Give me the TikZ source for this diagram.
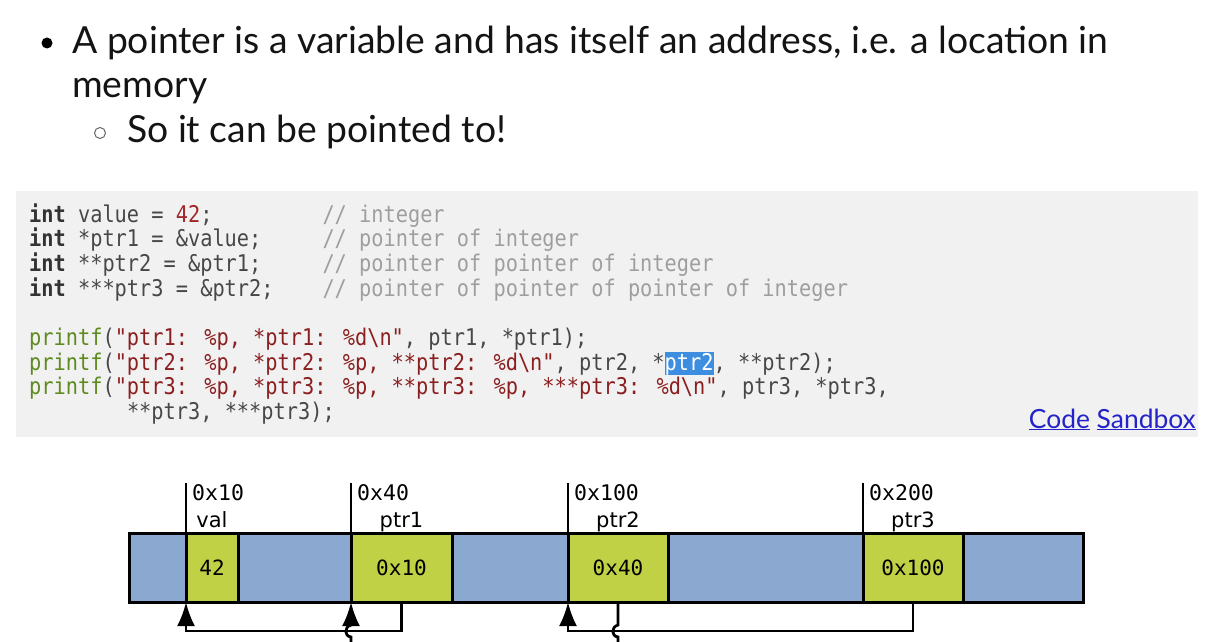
\documentclass[tikz,border=0pt]{standalone}
\usepackage{fontspec}
\setmainfont{Lato}
\newfontfamily\lato{Lato}
\newfontfamily\codefont[FakeStretch=0.8826]{DejaVu Sans Mono}
\newfontfamily\monofont{DejaVu Sans Mono}
\newfontfamily\labfont{DejaVu Sans}
\usetikzlibrary{arrows.meta}
\definecolor{kw}{HTML}{333333}
\definecolor{txt}{HTML}{474747}
\definecolor{num}{HTML}{A0282A}
\definecolor{cmt}{HTML}{9E9E9E}
\definecolor{fn}{HTML}{5F8A1F}
\definecolor{str}{HTML}{8B1E1E}
\definecolor{hl}{HTML}{3D8EE0}
\definecolor{codebg}{HTML}{F1F1F1}
\definecolor{link}{HTML}{2323C8}
\definecolor{memblue}{HTML}{8AA8D0}
\definecolor{memgreen}{HTML}{C0D145}
\newcommand{\kwint}{\textbf{\textcolor{kw}{int}}}
\newcommand{\fnc}[1]{\textcolor{fn}{#1}}
\newcommand{\strc}[1]{\textcolor{str}{#1}}
\newcommand{\hlbox}[1]{{\setlength{\fboxsep}{0pt}\colorbox{hl}{\rule[-3pt]{0pt}{21pt}\textcolor{white}{#1}}}}
\begin{document}
\begin{tikzpicture}[x=1pt,y=-1pt,
  bulletline/.style={anchor=base west, inner sep=0pt, font=\lato\fontsize{37.3}{44}\selectfont, text=black!92},
  codeline/.style={anchor=base west, inner sep=0pt, font=\codefont\fontsize{23}{24.7}\selectfont, text=txt},
  cmtline/.style={codeline, text=cmt},
  memstrip/.style={draw, line width=3pt, fill=memblue, anchor=north west, inner sep=0pt, outer sep=0pt, minimum height=69pt},
  cell/.style={draw, line width=3pt, fill=memgreen, anchor=north west, inner sep=0pt, outer sep=0pt, minimum height=69pt, font=\monofont\fontsize{21}{24}\selectfont},
  addr/.style={anchor=base west, inner sep=0pt, font=\monofont\fontsize{21.5}{24}\selectfont},
  vname/.style={anchor=base, inner sep=0pt, font=\labfont\fontsize{21}{24}\selectfont},
  marker/.style={line width=2.8pt},
  link/.style={line width=2.8pt, -{Latex[length=24pt,width=18pt]}},
  wire/.style={line width=2.8pt}
]
\useasboundingbox (0,0) rectangle (1212,642);
\fill[white] (0,0) rectangle (1212,642);

% bullets
\fill[black] (47,43) circle[radius=5.5pt];
\draw[gray!80!black, line width=1pt] (100,133) circle[radius=5.5pt];
\node[bulletline] (l1) at (72,53) {A pointer is a variable and has itself an address, i.e. a location in};
\node[bulletline] (l2) at (72,97) {memory};
\node[bulletline] (l3) at (127,142) {So it can be pointed to!};

% code box
\node[fill=codebg, anchor=north west, inner sep=0pt, outer sep=0pt, minimum width=1182pt, minimum height=246pt] (codebox) at (16,191) {};
\node[codeline] (c1) at (29,222) {\kwint{} value = \textcolor{num}{42};};
\node[codeline] (c2) at (29,246.7) {\kwint{} *ptr1 = \&value;};
\node[codeline] (c3) at (29,271.4) {\kwint{} **ptr2 = \&ptr1;};
\node[codeline] (c4) at (29,296.1) {\kwint{} ***ptr3 = \&ptr2;};
\node[cmtline] (k1) at (322.3,222) {// integer};
\node[cmtline] (k2) at (322.3,246.7) {// pointer of integer};
\node[cmtline] (k3) at (322.3,271.4) {// pointer of pointer of integer};
\node[cmtline] (k4) at (322.3,296.1) {// pointer of pointer of pointer of integer};
\node[codeline] (p1) at (29,345.5) {\fnc{printf}(\strc{"ptr1: \%p, *ptr1: \%d\textbackslash n"}, ptr1, *ptr1);};
\node[codeline] (p2) at (29,370.2) {\fnc{printf}(\strc{"ptr2: \%p, *ptr2: \%p, **ptr2: \%d\textbackslash n"}, ptr2, *\hlbox{ptr2}, **ptr2);};
\node[codeline] (p3) at (29,394.9) {\fnc{printf}(\strc{"ptr3: \%p, *ptr3: \%p, **ptr3: \%p, ***ptr3: \%d\textbackslash n"}, ptr3, *ptr3,};
\node[codeline] (p4) at (126.8,419.6) {**ptr3, ***ptr3);};
\node[anchor=base east, inner sep=0pt, font=\lato\fontsize{26.4}{30}\selectfont, text=link] (sandbox) at (1196,428) {\underline{Code} \underline{Sandbox}};

% memory strip
\node[memstrip, minimum width=954pt] (mem) at (129,533) {};
\node[cell, minimum width=52pt] (val) at (186,533) {42};
\node[cell, minimum width=101pt] (ptr1) at (351,533) {0x10};
\node[cell, minimum width=100pt] (ptr2) at (568,533) {0x40};
\node[cell, minimum width=100pt] (ptr3) at (863,533) {0x100};

% address markers
\coordinate (m0) at (186,483);
\coordinate (m1) at (351,483);
\coordinate (m2) at (568,483);
\coordinate (m3) at (863,483);
\draw[marker] (val.north west) -- (m0);
\draw[marker] (ptr1.north west) -- (m1);
\draw[marker] (ptr2.north west) -- (m2);
\draw[marker] (ptr3.north west) -- (m3);
\node[addr] (a0) at (192,500) {0x10};
\node[addr] (a1) at (357,500) {0x40};
\node[addr] (a2) at (574,500) {0x100};
\node[addr] (a3) at (869,500) {0x200};
\node[vname] (n0) at (val.center |- 0,527) {val};
\node[vname] (n1) at (ptr1.center |- 0,527) {ptr1};
\node[vname] (n2) at (ptr2.center |- 0,527) {ptr2};
\node[vname] (n3) at (ptr3.center |- 0,527) {ptr3};

% pointer connectors
\draw[link] (ptr1.south) -- ++(0,29) -| (val.south west);
\draw[link] (ptr3.south) -- ++(0,29) -| (ptr2.south west);
\coordinate (b1) at (351,642);
\coordinate (b2) at (618,642);
\draw[link] (b1) -- (351,637) .. controls (344,636) and (344,627) .. (351,625) -- (ptr1.south west);
\draw[wire] (ptr2.south) -- (618,625) .. controls (611,627) and (611,636) .. (618,637) -- (b2);
\end{tikzpicture}
\end{document}
